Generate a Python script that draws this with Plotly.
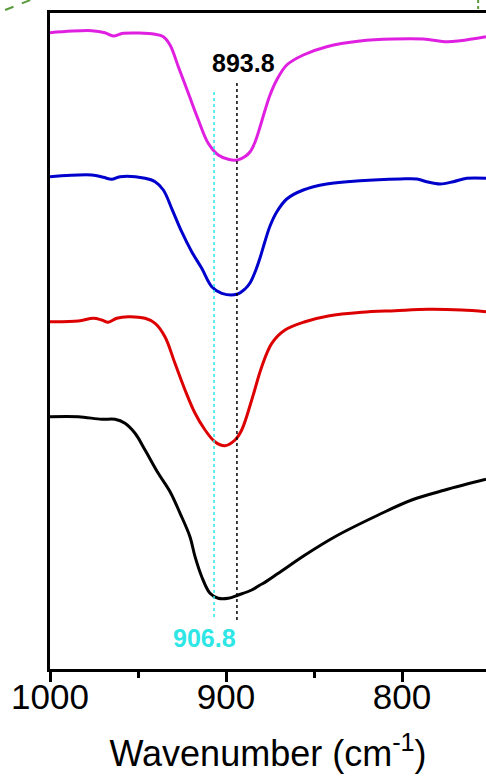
import plotly.graph_objects as go

# Wavenumber (cm^-1) and offset transmittance (a.u.)
mag_x = [1000, 976.3, 968.8, 964.0, 958.4, 940.3, 935.6, 931.8, 927.1, 921.4, 915.7, 910.1, 904.4, 898.7,
         893.4, 889.2, 886.4, 883.5, 880.7, 877.8, 875.0, 871.2, 865.5, 856.1, 842.8, 823.9, 804.9, 787.9,
         774.6, 767.0, 752.3]
mag_y = [636.3, 638.3, 636.3, 633, 635.7, 634.7, 632.3, 624, 602.3, 575.7, 549, 525.7, 514, 509.7,
         509, 512.5, 517, 527, 542, 559, 574, 589, 604, 614, 622.3, 628, 630, 630,
         627.3, 628.3, 632.3]

blu_x = [1000, 976.3, 969.7, 964.9, 960.2, 946.0, 940.3, 935.6, 930.9, 925.2, 919.5, 913.8, 908.1, 902.4,
         893.9, 889.2, 886.4, 883.5, 880.7, 877.8, 875.0, 871.2, 865.5, 856.1, 842.8, 823.9, 801.1, 791.6,
         786.0, 778.4, 770.9, 763.2, 752.3]
blu_y = [492.3, 494, 491.7, 489.7, 492.3, 490.7, 487.3, 479, 460.7, 437.3, 417.3, 400.7, 382.3, 375.7,
         374.7, 380, 386, 397, 411, 428, 443, 457, 470, 479, 485, 488.3, 490, 490,
         487.3, 485, 487.3, 490.7, 490.7]

red_x = [1000, 983.9, 975.4, 970.6, 966.9, 962.1, 955.5, 946.0, 940.3, 934.7, 929.0, 923.3, 917.6, 911.9,
         906.3, 900.6, 894.9, 891.1, 885.4, 879.7, 874.0, 866.5, 855.1, 841.9, 822.9, 804.0, 785.1, 766.1, 752.3]
red_y = [347.3, 348, 350.7, 349, 346.7, 350.7, 352.3, 350.7, 345.7, 332.3, 305.7, 279, 255.7, 239,
         227.3, 223.3, 229, 239, 269, 302.3, 325.7, 339, 347.3, 353, 356.7, 358.3, 359.7, 359, 357.3]

blk_x = [1000, 983.9, 970.6, 963.1, 957.4, 951.7, 946.0, 938.5, 931.8, 926.1, 920.5, 917.6, 913.8, 909.1,
         904.4, 898.7, 893.0, 885.4, 880.7, 878.8, 870.3, 855.1, 838.1, 813.5, 794.5, 775.6, 752.3]
blk_y = [252.3, 252.3, 249.7, 249.7, 245.7, 235.7, 219, 195.7, 177.3, 155.7, 132.3, 112.3, 92.3, 75.7,
         70.7, 70.7, 74, 79, 84, 85.7, 95.7, 114, 132.3, 154, 169, 179, 189.7]

peak_pos = [893.8, 906.8]
peak_labels = ["893.8", "906.8"]
peak_colors = ["#000000", "#2EE6E6"]
peak_line_y = [[49, 586], [52, 578]]
peak_label_xy = [[889.8, 606], [912.5, 31]]

x_ticks = [1000, 900, 800]

fig = go.Figure()
for xs, ys, col in [(blk_x, blk_y, "#000000"), (red_x, red_y, "#DD0000"),
                    (blu_x, blu_y, "#0000CC"), (mag_x, mag_y, "#E020E0")]:
    fig.add_trace(go.Scatter(x=xs, y=ys, mode="lines", line=dict(color=col, width=3, shape="spline", smoothing=1.0),
                             showlegend=False, hoverinfo="skip"))

for p, lab, col, ly, lxy in zip(peak_pos, peak_labels, peak_colors, peak_line_y, peak_label_xy):
    fig.add_shape(type="line", x0=p, x1=p, y0=ly[0], y1=ly[1], xref="x", yref="y",
                  line=dict(color=col, width=1.5, dash="dot"))
    fig.add_annotation(x=lxy[0], y=lxy[1], text="<b>" + lab + "</b>", showarrow=False,
                       font=dict(family="Arial, Liberation Sans", size=25, color=col))

# cropped green dashed guides at the top corners
fig.add_shape(type="line", xref="paper", yref="paper", x0=-0.103, y0=1.0045, x1=-0.045, y1=1.0198,
              line=dict(color="#5A9A3A", width=2, dash="dash"))
fig.add_shape(type="line", xref="paper", yref="paper", x0=0.982, y0=1.0198, x1=0.982, y1=1.006,
              line=dict(color="#5A9A3A", width=2, dash="dot"))

fig.update_layout(
    width=486, height=778,
    margin=dict(l=50, r=0, t=13, b=109),
    paper_bgcolor="white", plot_bgcolor="white",
    font=dict(family="Arial, Liberation Sans", color="black"),
    xaxis=dict(range=[1000, 752.3], showgrid=False, zeroline=False, automargin=True,
               showline=True, linewidth=3, linecolor="black", mirror=True,
               ticks="outside", ticklen=10, tickwidth=3, tickcolor="black",
               tickvals=x_ticks, ticktext=[str(v) for v in x_ticks],
               tickfont=dict(size=35), ticklabelstandoff=-15,
               minor=dict(tickvals=[950, 850], ticks="outside", ticklen=6, tickwidth=3, tickcolor="black"),
               title=dict(text="Wavenumber (cm<sup>-1</sup>)", font=dict(size=36), standoff=26)),
    yaxis=dict(range=[0, 656], showgrid=False, zeroline=False, showticklabels=False, automargin=False,
               showline=True, linewidth=3, linecolor="black", ticks=""),
)

fig.write_html("out.html")
